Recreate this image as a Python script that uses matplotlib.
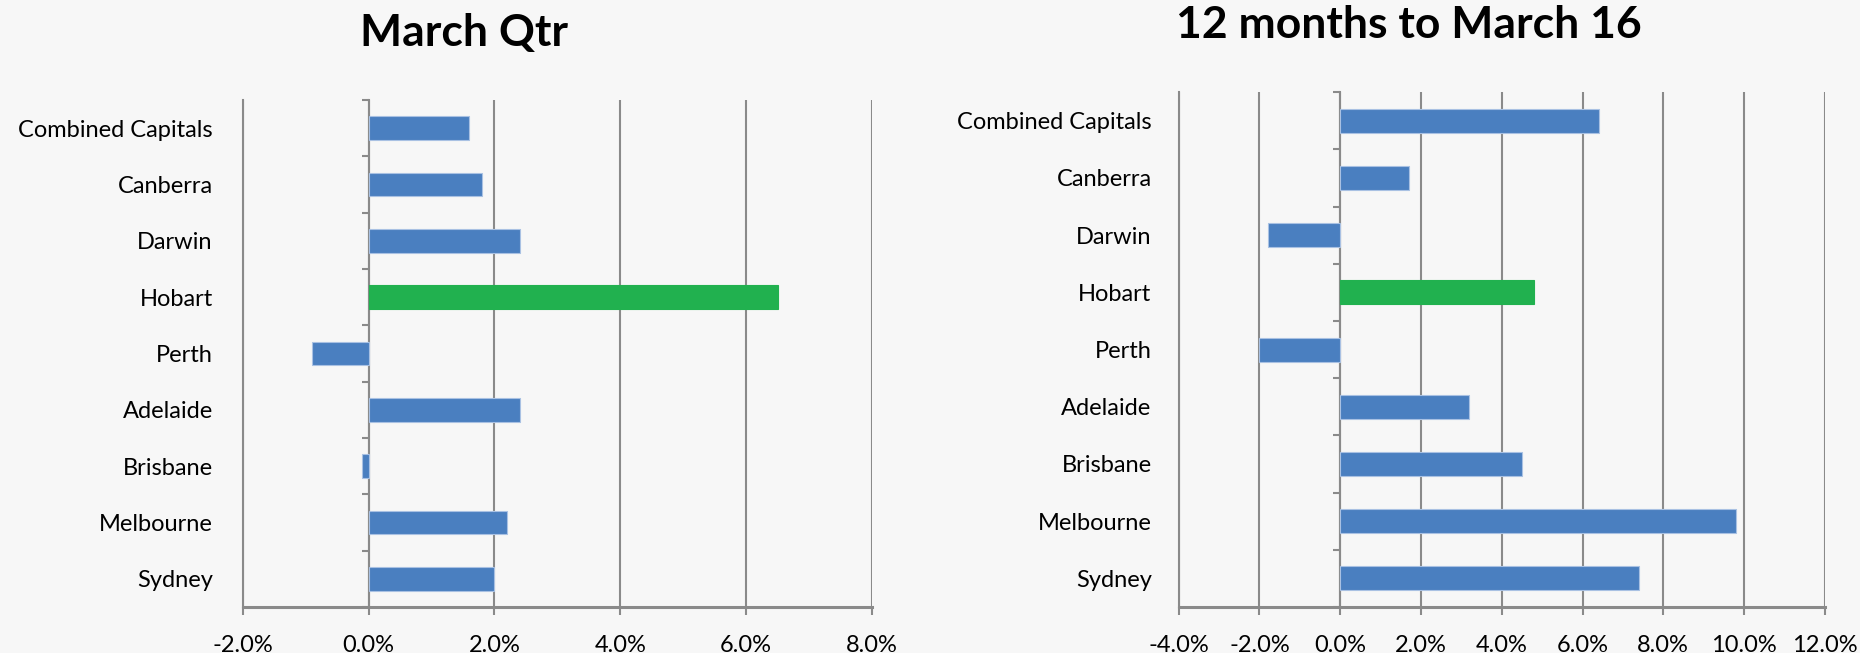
import matplotlib
matplotlib.use("Agg")
import matplotlib.pyplot as plt
import numpy as np
from matplotlib.ticker import FuncFormatter

plt.rcParams['font.family'] = ['Lato', 'DejaVu Sans']

categories = ["Combined Capitals", "Canberra", "Darwin", "Hobart", "Perth",
              "Adelaide", "Brisbane", "Melbourne", "Sydney"]
qtr_values = [1.6, 1.8, 2.4, 6.5, -0.9, 2.4, -0.1, 2.2, 2.0]
year_values = [6.4, 1.7, -1.8, 4.8, -2.0, 3.2, 4.5, 9.8, 7.4]
highlight = "Hobart"
titles = ["March Qtr", "12 months to March 16"]
qtr_ticks = [-2, 0, 2, 4, 6, 8]
year_ticks = [-4, -2, 0, 2, 4, 6, 8, 10, 12]

BG = "#f7f7f7"
BLUE = "#4a7fc0"
GREEN = "#21b14f"
GRID = "#8a8a8a"

fig = plt.figure(figsize=(18.6, 6.53), dpi=100, facecolor=BG)

def draw(ax, values, ticks, ylabel_pad):
    ax.set_facecolor(BG)
    y = np.arange(len(categories))
    colors = [GREEN if c == highlight else BLUE for c in categories]
    ax.barh(y, values, height=0.42, color=colors, edgecolor="#a9c1e3",
            linewidth=0.8, zorder=3)
    for c, b in zip(categories, ax.patches):
        if c == highlight:
            b.set_edgecolor(GREEN)
    ax.set_ylim(len(categories) - 0.5, -0.5)
    ax.set_xlim(ticks[0], ticks[-1])
    ax.set_xticks(ticks)
    ax.xaxis.set_major_formatter(FuncFormatter(lambda v, p: f"{v:.1f}%"))
    ax.set_yticks(y)
    ax.set_yticklabels(categories)
    ax.tick_params(axis='y', length=0, pad=ylabel_pad, labelsize=17)
    ax.tick_params(axis='x', length=6, width=1.5, color=GRID, pad=14,
                   labelsize=17, direction='out')
    ax.grid(axis='x', color=GRID, linewidth=1.5, zorder=1)
    ax.set_axisbelow(True)
    for s in ['top', 'right']:
        ax.spines[s].set_visible(False)
    ax.spines['left'].set_color(GRID)
    ax.spines['left'].set_linewidth(1.5)
    ax.spines['bottom'].set_color(GRID)
    ax.spines['bottom'].set_linewidth(2.2)
    # zero axis with category boundary tick marks
    sec = ax.secondary_yaxis(0, transform=ax.transData)
    sec.set_yticks(np.arange(len(categories) + 1) - 0.5)
    sec.set_yticklabels([])
    sec.tick_params(axis='y', length=5, width=1.5, color=GRID, direction='out')
    sec.spines['left'].set_color(GRID)
    sec.spines['left'].set_linewidth(1.5)

ax1 = fig.add_axes([0.1305, 0.0704, 0.3383, 0.7765])
draw(ax1, qtr_values, qtr_ticks, 21.5)
ax2 = fig.add_axes([0.6337, 0.0704, 0.3474, 0.7886])
draw(ax2, year_values, year_ticks, 19.5)

fig.text(0.2495, 0.949, titles[0], ha='center', va='center',
         fontsize=32, fontweight='bold')
fig.text(0.7575, 0.962, titles[1], ha='center', va='center',
         fontsize=32, fontweight='bold')

fig.savefig("out.png", dpi=100, facecolor=BG)
